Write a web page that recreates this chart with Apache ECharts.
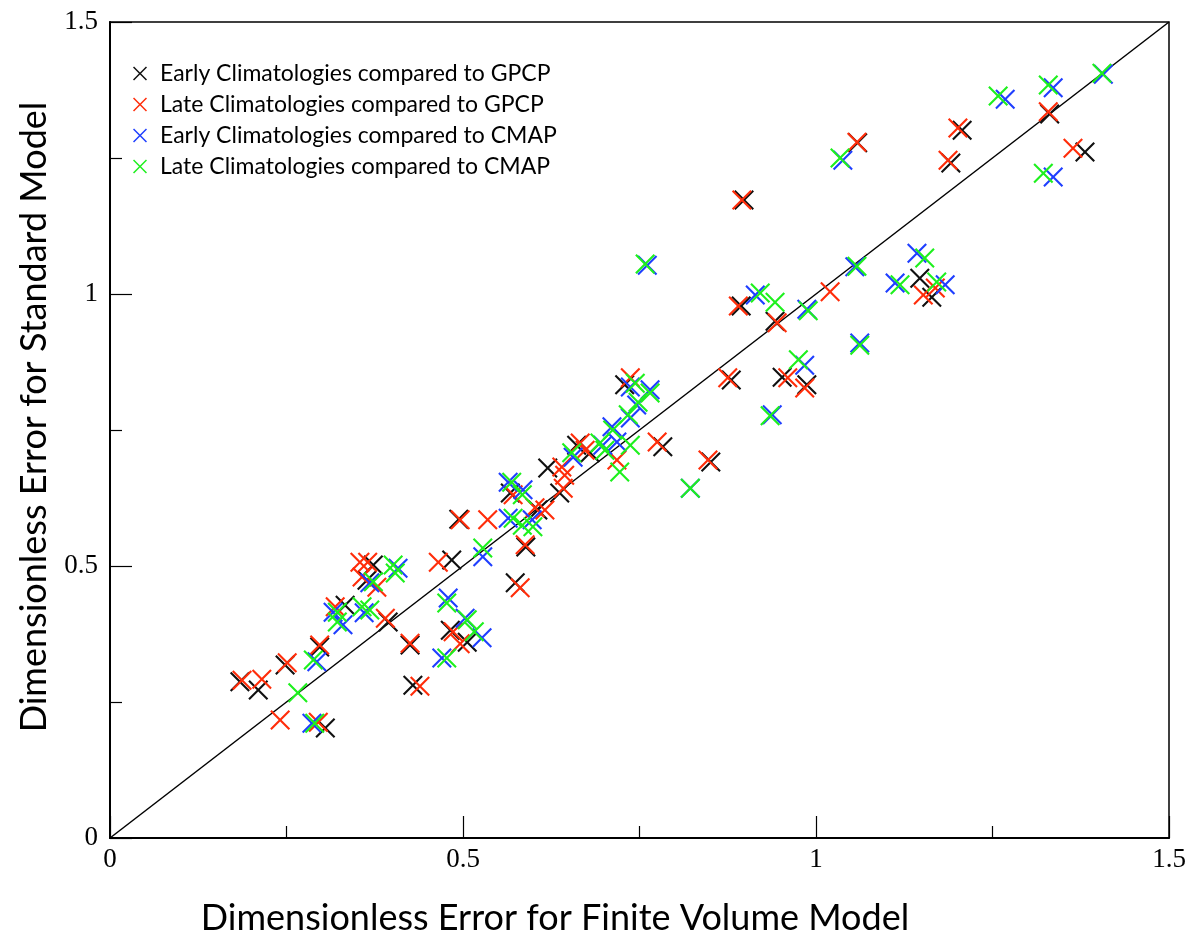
<!DOCTYPE html>
<html>
<head>
<meta charset="utf-8">
<script src="https://cdn.jsdelivr.net/npm/echarts@6/dist/echarts.min.js"></script>
<style>
html,body{margin:0;padding:0;background:#fff;}
#chart{width:1197px;height:942px;}
</style>
</head>
<body>
<div id="chart"></div>
<script>
// ---- data ----
const seriesNames = [
  'Early Climatologies compared to GPCP',
  'Late Climatologies compared to GPCP',
  'Early Climatologies compared to CMAP',
  'Late Climatologies compared to CMAP'
];
const xTicks = [0, 0.5, 1, 1.5];
const yTicks = [0, 0.5, 1, 1.5];
const xTitle = 'Dimensionless Error for Finite Volume Model';
const yTitle = 'Dimensionless Error for Standard Model';
const diagLine = [[0, 0], [1.5, 1.5]];

const earlyGPCP = [
  [0.184,0.287],[0.210,0.272],[0.248,0.318],[0.297,0.351],[0.305,0.202],
  [0.333,0.428],[0.373,0.502],[0.364,0.474],[0.394,0.397],[0.425,0.355],
  [0.429,0.281],[0.484,0.511],[0.494,0.586],[0.482,0.382],[0.506,0.360],
  [0.574,0.469],[0.589,0.535],[0.567,0.634],[0.606,0.603],[0.620,0.680],
  [0.637,0.634],[0.661,0.722],[0.680,0.708],[0.729,0.833],[0.783,0.719],
  [0.851,0.691],[0.880,0.842],[0.952,0.847],[0.987,0.833],[0.894,0.978],
  [0.942,0.950],[0.898,1.173],[1.147,1.029],[1.164,0.994],[1.191,1.241],
  [1.207,1.301],[1.059,1.278],[1.331,1.331],[1.381,1.261]
];
const lateGPCP = [
  [0.187,0.290],[0.215,0.292],[0.251,0.322],[0.297,0.355],[0.241,0.217],
  [0.295,0.213],[0.354,0.507],[0.365,0.507],[0.357,0.480],[0.378,0.461],
  [0.319,0.425],[0.390,0.404],[0.465,0.507],[0.425,0.358],[0.439,0.279],
  [0.486,0.379],[0.496,0.357],[0.581,0.460],[0.496,0.585],[0.535,0.585],
  [0.571,0.631],[0.640,0.682],[0.644,0.667],[0.642,0.643],[0.602,0.607],
  [0.616,0.603],[0.588,0.539],[0.737,0.846],[0.666,0.726],[0.673,0.713],
  [0.718,0.695],[0.775,0.728],[0.847,0.695],[0.875,0.846],[0.960,0.846],
  [0.984,0.827],[0.890,0.978],[0.945,0.947],[1.020,1.004],[0.895,1.173],
  [1.152,0.998],[1.169,1.011],[1.187,1.246],[1.201,1.305],[1.058,1.279],
  [1.329,1.335],[1.364,1.268]
];
const earlyCMAP = [
  [0.293,0.324],[0.286,0.211],[0.408,0.496],[0.368,0.469],[0.316,0.415],
  [0.330,0.392],[0.360,0.414],[0.479,0.441],[0.528,0.517],[0.503,0.404],
  [0.527,0.368],[0.470,0.331],[0.564,0.654],[0.585,0.640],[0.564,0.588],
  [0.598,0.585],[0.737,0.829],[0.765,0.824],[0.746,0.796],[0.737,0.772],
  [0.711,0.756],[0.718,0.728],[0.698,0.722],[0.656,0.700],[0.822,0.643],
  [0.938,0.778],[0.984,0.869],[0.914,0.998],[0.987,0.972],[1.055,1.050],
  [1.062,0.910],[0.761,1.053],[1.143,1.075],[1.112,1.020],[1.183,1.017],
  [1.038,1.246],[1.268,1.358],[1.336,1.379],[1.407,1.404],[1.336,1.215]
];
const lateCMAP = [
  [0.288,0.327],[0.266,0.267],[0.290,0.211],[0.401,0.502],[0.404,0.487],
  [0.373,0.471],[0.322,0.415],[0.322,0.397],[0.357,0.425],[0.368,0.419],
  [0.477,0.432],[0.528,0.533],[0.506,0.401],[0.516,0.379],[0.477,0.331],
  [0.569,0.654],[0.584,0.631],[0.571,0.588],[0.584,0.575],[0.599,0.572],
  [0.744,0.836],[0.765,0.818],[0.748,0.801],[0.734,0.778],[0.712,0.750],
  [0.737,0.722],[0.694,0.726],[0.701,0.713],[0.654,0.708],[0.722,0.673],
  [0.822,0.643],[0.935,0.776],[0.975,0.879],[0.921,1.002],[0.942,0.985],
  [0.989,0.969],[1.058,1.051],[1.062,0.906],[0.758,1.055],[1.154,1.066],
  [1.119,1.017],[1.171,1.022],[1.034,1.250],[1.258,1.364],[1.329,1.384],
  [1.405,1.406],[1.322,1.222]
];
const seriesData = [earlyGPCP, lateGPCP, earlyCMAP, lateCMAP];
const seriesColors = ['#111111', '#ff2d0a', '#1f3fff', '#1ef01e'];

// ---- chart ----
const X_PATH = 'path://M0,1.5L1.5,0L10,8.5L18.5,0L20,1.5L11.5,10L20,18.5L18.5,20L10,11.5L1.5,20L0,18.5L8.5,10Z';

const chart = echarts.init(document.getElementById('chart'), null, {renderer: 'canvas'});

const axisCommon = {
  type: 'value', min: 0, max: 1.5, interval: 0.5,
  axisLine: {show: true, onZero: false, lineStyle: {color: '#000', width: 2}},
  axisTick: {show: true, inside: true, length: 22, lineStyle: {color: '#000', width: 1.2}},
  minorTick: {show: true, splitNumber: 2, length: 12, lineStyle: {color: '#000', width: 1.2}},
  splitLine: {show: false},
  axisLabel: {
    color: '#000', fontFamily: 'Liberation Serif', fontSize: 27,
    formatter: v => String(v)
  }
};

const series = seriesNames.map((name, i) => ({
  name: name,
  type: 'scatter',
  data: seriesData[i],
  symbol: X_PATH,
  symbolSize: 20,
  itemStyle: {color: seriesColors[i], opacity: 1},
  emphasis: {disabled: true},
  z: 3 + i
}));
series.unshift({
  name: 'diag',
  type: 'line',
  data: diagLine,
  symbol: 'none',
  lineStyle: {color: '#000', width: 1.5},
  silent: true,
  z: 2
});

chart.setOption({
  animation: false,
  backgroundColor: '#fff',
  grid: {left: 110, top: 22, right: 28, bottom: 104, show: true, borderColor: '#000', borderWidth: 1.5, backgroundColor: 'transparent'},
  xAxis: Object.assign({}, axisCommon, {
    axisLabel: Object.assign({}, axisCommon.axisLabel, {margin: 8})
  }),
  yAxis: Object.assign({}, axisCommon, {
    axisLabel: Object.assign({}, axisCommon.axisLabel, {margin: 12})
  }),
  legend: {
    data: seriesNames,
    orient: 'vertical',
    left: 128,
    top: 57,
    itemGap: 8,
    itemWidth: 14,
    itemHeight: 14,
    icon: X_PATH,
    selectedMode: false,
    textStyle: {fontFamily: 'Lato', fontSize: 23, lineHeight: 23, color: '#000', padding: [0, 0, 0, 8]}
  },
  graphic: [
    {type: 'text', x: 555, y: 918, style: {text: xTitle, font: '36px Lato', fill: '#000', textAlign: 'center', textVerticalAlign: 'middle'}},
    {type: 'text', x: 34, y: 417, rotation: Math.PI / 2, style: {text: yTitle, font: '36px Lato', fill: '#000', textAlign: 'center', textVerticalAlign: 'middle'}}
  ],
  series: series
});
</script>
</body>
</html>
